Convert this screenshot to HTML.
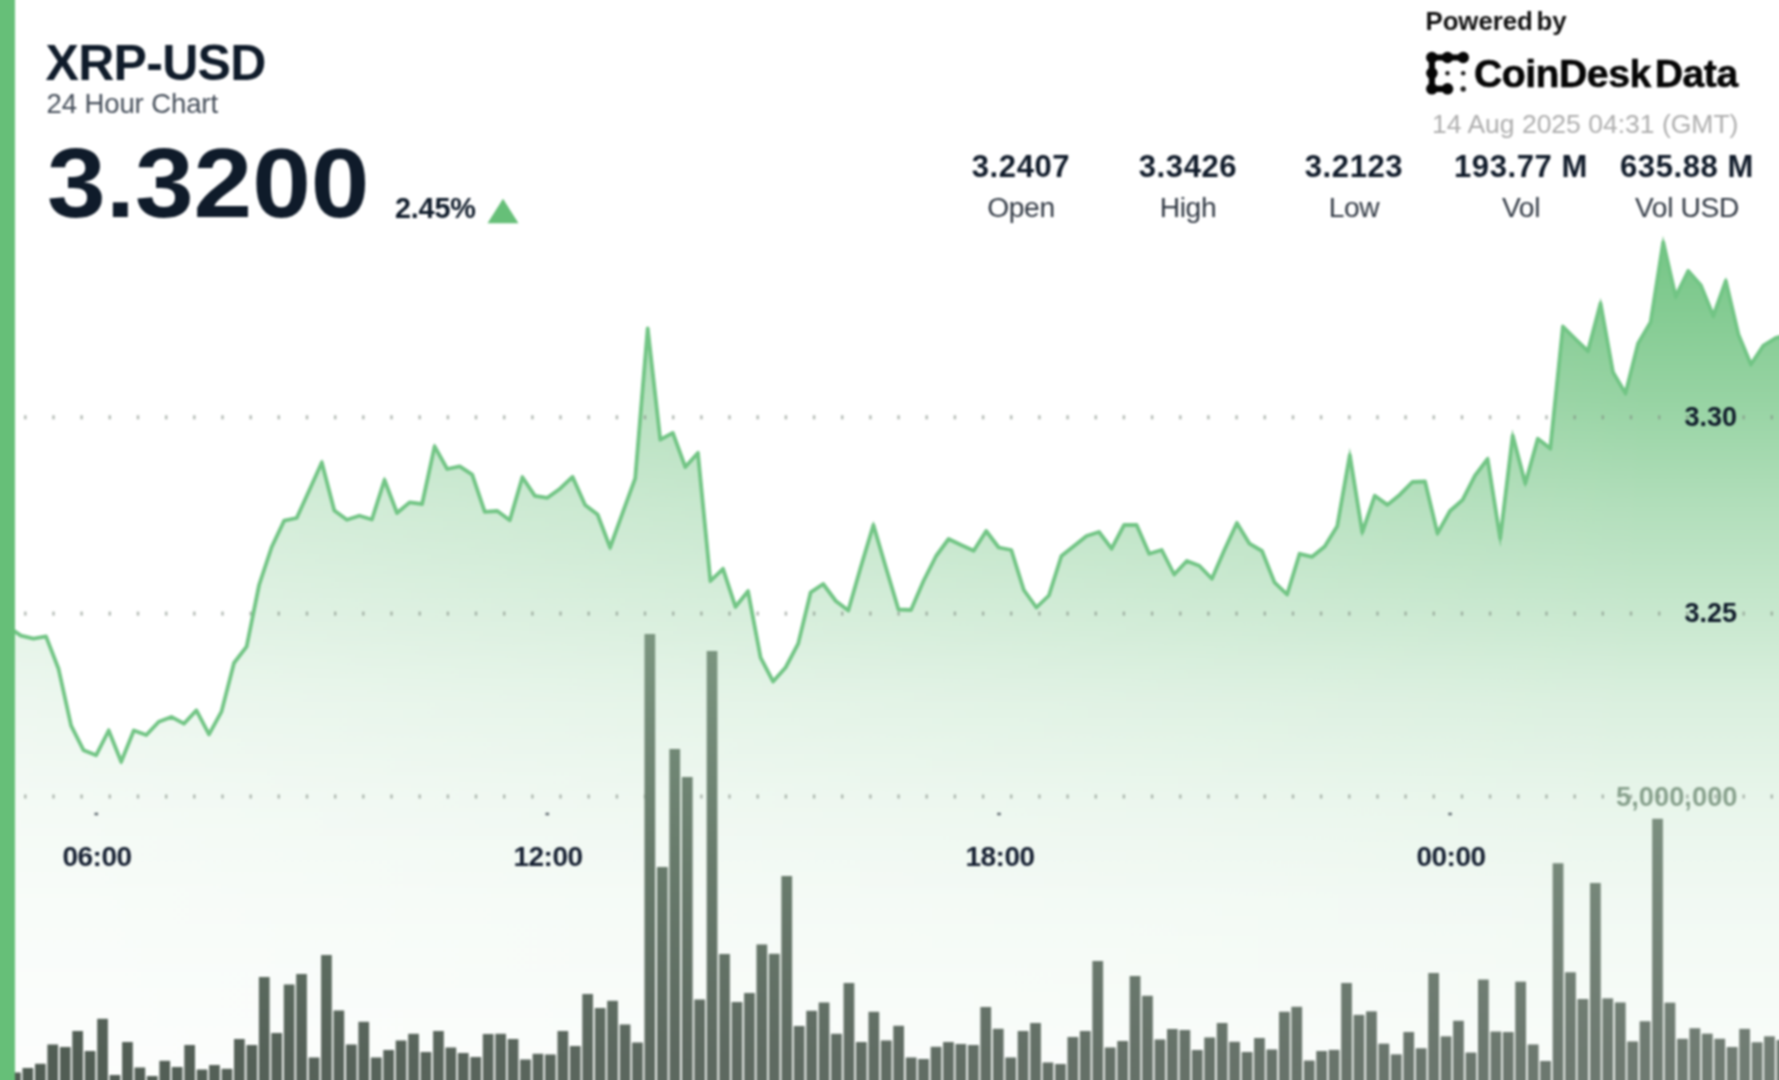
<!DOCTYPE html>
<html><head><meta charset="utf-8"><title>XRP-USD 24 Hour Chart</title>
<style>
html,body{margin:0;padding:0;background:#fff;}
body{width:1779px;height:1080px;overflow:hidden;position:relative;font-family:"Liberation Sans",sans-serif;color:#0f1b2a;}
#chart{position:absolute;left:0;top:0;width:1779px;height:1080px;}
.t{position:absolute;white-space:nowrap;line-height:1;}
.b{font-weight:bold;}
.stat{position:absolute;width:200px;text-align:center;white-space:nowrap;line-height:1;}
.sv{top:150.6px;font-size:31px;font-weight:bold;color:#101b2a;letter-spacing:0.6px;}
.sl{top:193px;font-size:28.2px;color:#2f3742;letter-spacing:-0.35px;}
.ax{font-size:27px;font-weight:bold;color:#0f1b2a;}
.tm{position:absolute;width:120px;text-align:center;top:842.8px;font-size:28px;font-weight:bold;color:#162032;line-height:1;letter-spacing:-0.5px;}
#w{position:absolute;left:-30px;top:-30px;width:1839px;height:1140px;filter:blur(0.9px);background:#fff;}
#in{position:absolute;left:30px;top:30px;width:1779px;height:1080px;}
#chart{overflow:visible;}
</style></head><body>
<div id="w"><div id="in">
<svg id="chart" width="1779" height="1080" viewBox="0 0 1779 1080">
<defs>
<linearGradient id="g" x1="0" y1="240" x2="0" y2="1080" gradientUnits="userSpaceOnUse"><stop offset="0.0000" stop-color="#66bf78" stop-opacity="0.9"/><stop offset="0.1905" stop-color="#66bf78" stop-opacity="0.68"/><stop offset="0.3214" stop-color="#66bf78" stop-opacity="0.5"/><stop offset="0.4452" stop-color="#66bf78" stop-opacity="0.36"/><stop offset="0.5476" stop-color="#66bf78" stop-opacity="0.24"/><stop offset="0.6667" stop-color="#66bf78" stop-opacity="0.15"/><stop offset="0.7857" stop-color="#66bf78" stop-opacity="0.09"/><stop offset="1.0000" stop-color="#66bf78" stop-opacity="0.03"/></linearGradient><linearGradient id="hg" x1="0" y1="0" x2="1779" y2="0" gradientUnits="userSpaceOnUse"><stop offset="0" stop-color="#fff" stop-opacity="0.52"/><stop offset="0.93" stop-color="#fff" stop-opacity="0.0"/><stop offset="1" stop-color="#fff" stop-opacity="0"/></linearGradient><linearGradient id="bg" x1="0" y1="630" x2="0" y2="1080" gradientUnits="userSpaceOnUse"><stop offset="0" stop-color="rgb(114,142,119)"/><stop offset="0.51" stop-color="rgb(92,112,96)"/><stop offset="0.95" stop-color="rgb(80,92,83)"/><stop offset="1" stop-color="rgb(80,92,83)"/></linearGradient><linearGradient id="bh" x1="0" y1="0" x2="1779" y2="0" gradientUnits="userSpaceOnUse"><stop offset="0" stop-color="#f4fff6" stop-opacity="0"/><stop offset="1" stop-color="#f4fff6" stop-opacity="0.2"/></linearGradient>
<filter id="bl" x="-2%" y="-2%" width="104%" height="104%"><feGaussianBlur stdDeviation="0.9"/></filter>
</defs>
<g>
<path d="M-3.5,624.0 L8.4,627.0 L20.9,635.6 L33.5,638.7 L46.0,636.4 L58.5,668.7 L71.1,725.6 L83.6,750.3 L96.2,755.2 L108.7,730.5 L121.2,761.7 L133.8,730.5 L146.3,735.0 L158.8,721.8 L171.4,716.9 L183.9,723.7 L196.4,710.4 L209.0,734.3 L221.5,711.6 L234.0,663.0 L246.6,646.6 L259.1,585.0 L271.7,547.0 L284.2,520.6 L296.7,518.0 L309.3,490.2 L321.8,462.5 L334.3,510.4 L346.9,519.8 L359.4,515.7 L371.9,519.5 L384.5,480.0 L397.0,513.0 L409.6,502.4 L422.1,504.0 L434.6,446.4 L447.2,469.0 L459.7,466.3 L472.2,474.6 L484.8,511.8 L497.3,511.0 L509.8,520.2 L522.4,477.3 L534.9,495.9 L547.4,497.8 L560.0,488.7 L572.5,476.9 L585.1,505.0 L597.6,514.5 L610.1,547.5 L622.7,512.6 L635.2,478.4 L647.7,328.5 L660.3,439.7 L672.8,432.9 L685.3,467.0 L697.9,453.0 L710.4,581.0 L723.0,568.8 L735.5,606.8 L748.0,591.2 L760.6,657.6 L773.1,681.5 L785.6,667.5 L798.2,643.6 L810.7,592.3 L823.2,584.0 L835.8,601.0 L848.3,610.5 L860.8,567.0 L873.4,525.0 L885.9,567.5 L898.5,609.5 L911.0,610.0 L923.5,581.0 L936.1,556.0 L948.6,539.0 L961.1,545.0 L973.7,550.7 L986.2,531.0 L998.7,547.5 L1011.3,550.0 L1023.8,590.0 L1036.4,607.5 L1048.9,595.5 L1061.4,556.0 L1074.0,546.0 L1086.5,536.0 L1099.0,532.0 L1111.6,548.7 L1124.1,525.0 L1136.6,525.0 L1149.2,553.7 L1161.7,550.0 L1174.2,574.5 L1186.8,561.0 L1199.3,565.7 L1211.9,578.7 L1224.4,550.0 L1236.9,523.0 L1249.5,543.7 L1262.0,551.0 L1274.5,582.4 L1287.1,594.5 L1299.6,553.8 L1312.1,556.8 L1324.7,546.6 L1337.2,526.3 L1349.8,455.0 L1362.3,532.4 L1374.8,495.7 L1387.4,504.9 L1399.9,494.7 L1412.4,482.0 L1425.0,481.5 L1437.5,533.4 L1450.0,511.0 L1462.6,499.8 L1475.1,475.4 L1487.6,459.0 L1500.2,538.5 L1512.7,435.6 L1525.3,483.5 L1537.8,438.8 L1550.3,448.5 L1562.9,326.7 L1575.4,339.0 L1587.9,351.2 L1600.5,303.4 L1613.0,372.3 L1625.5,393.4 L1638.1,343.4 L1650.6,322.3 L1663.2,242.2 L1675.7,296.7 L1688.2,271.0 L1700.8,285.3 L1713.3,316.0 L1725.8,281.0 L1738.4,334.5 L1750.9,364.5 L1763.4,345.6 L1776.0,337.8 L1788.5,335.0 L1801.0,334.0 L1801.0,1105 L-3.5,1105 Z" fill="url(#g)"/><path d="M-3.5,624.0 L8.4,627.0 L20.9,635.6 L33.5,638.7 L46.0,636.4 L58.5,668.7 L71.1,725.6 L83.6,750.3 L96.2,755.2 L108.7,730.5 L121.2,761.7 L133.8,730.5 L146.3,735.0 L158.8,721.8 L171.4,716.9 L183.9,723.7 L196.4,710.4 L209.0,734.3 L221.5,711.6 L234.0,663.0 L246.6,646.6 L259.1,585.0 L271.7,547.0 L284.2,520.6 L296.7,518.0 L309.3,490.2 L321.8,462.5 L334.3,510.4 L346.9,519.8 L359.4,515.7 L371.9,519.5 L384.5,480.0 L397.0,513.0 L409.6,502.4 L422.1,504.0 L434.6,446.4 L447.2,469.0 L459.7,466.3 L472.2,474.6 L484.8,511.8 L497.3,511.0 L509.8,520.2 L522.4,477.3 L534.9,495.9 L547.4,497.8 L560.0,488.7 L572.5,476.9 L585.1,505.0 L597.6,514.5 L610.1,547.5 L622.7,512.6 L635.2,478.4 L647.7,328.5 L660.3,439.7 L672.8,432.9 L685.3,467.0 L697.9,453.0 L710.4,581.0 L723.0,568.8 L735.5,606.8 L748.0,591.2 L760.6,657.6 L773.1,681.5 L785.6,667.5 L798.2,643.6 L810.7,592.3 L823.2,584.0 L835.8,601.0 L848.3,610.5 L860.8,567.0 L873.4,525.0 L885.9,567.5 L898.5,609.5 L911.0,610.0 L923.5,581.0 L936.1,556.0 L948.6,539.0 L961.1,545.0 L973.7,550.7 L986.2,531.0 L998.7,547.5 L1011.3,550.0 L1023.8,590.0 L1036.4,607.5 L1048.9,595.5 L1061.4,556.0 L1074.0,546.0 L1086.5,536.0 L1099.0,532.0 L1111.6,548.7 L1124.1,525.0 L1136.6,525.0 L1149.2,553.7 L1161.7,550.0 L1174.2,574.5 L1186.8,561.0 L1199.3,565.7 L1211.9,578.7 L1224.4,550.0 L1236.9,523.0 L1249.5,543.7 L1262.0,551.0 L1274.5,582.4 L1287.1,594.5 L1299.6,553.8 L1312.1,556.8 L1324.7,546.6 L1337.2,526.3 L1349.8,455.0 L1362.3,532.4 L1374.8,495.7 L1387.4,504.9 L1399.9,494.7 L1412.4,482.0 L1425.0,481.5 L1437.5,533.4 L1450.0,511.0 L1462.6,499.8 L1475.1,475.4 L1487.6,459.0 L1500.2,538.5 L1512.7,435.6 L1525.3,483.5 L1537.8,438.8 L1550.3,448.5 L1562.9,326.7 L1575.4,339.0 L1587.9,351.2 L1600.5,303.4 L1613.0,372.3 L1625.5,393.4 L1638.1,343.4 L1650.6,322.3 L1663.2,242.2 L1675.7,296.7 L1688.2,271.0 L1700.8,285.3 L1713.3,316.0 L1725.8,281.0 L1738.4,334.5 L1750.9,364.5 L1763.4,345.6 L1776.0,337.8 L1788.5,335.0 L1801.0,334.0 L1801.0,1105 L-3.5,1105 Z" fill="url(#hg)"/>
<text x="1737.5" y="806.3" text-anchor="end" font-family="Liberation Sans, sans-serif" font-weight="bold" font-size="27.3" fill="#7d9883" fill-opacity="0.9">5,000,000</text><g fill="#7f8a80" fill-opacity="0.6"><rect x="24.1" y="415.3" width="2.4" height="4"/><rect x="52.3" y="415.3" width="2.4" height="4"/><rect x="80.4" y="415.3" width="2.4" height="4"/><rect x="108.6" y="415.3" width="2.4" height="4"/><rect x="136.8" y="415.3" width="2.4" height="4"/><rect x="165.0" y="415.3" width="2.4" height="4"/><rect x="193.1" y="415.3" width="2.4" height="4"/><rect x="221.3" y="415.3" width="2.4" height="4"/><rect x="249.5" y="415.3" width="2.4" height="4"/><rect x="277.6" y="415.3" width="2.4" height="4"/><rect x="305.8" y="415.3" width="2.4" height="4"/><rect x="334.0" y="415.3" width="2.4" height="4"/><rect x="362.1" y="415.3" width="2.4" height="4"/><rect x="390.3" y="415.3" width="2.4" height="4"/><rect x="418.5" y="415.3" width="2.4" height="4"/><rect x="446.7" y="415.3" width="2.4" height="4"/><rect x="474.8" y="415.3" width="2.4" height="4"/><rect x="503.0" y="415.3" width="2.4" height="4"/><rect x="531.2" y="415.3" width="2.4" height="4"/><rect x="559.3" y="415.3" width="2.4" height="4"/><rect x="587.5" y="415.3" width="2.4" height="4"/><rect x="615.7" y="415.3" width="2.4" height="4"/><rect x="643.8" y="415.3" width="2.4" height="4"/><rect x="672.0" y="415.3" width="2.4" height="4"/><rect x="700.2" y="415.3" width="2.4" height="4"/><rect x="728.3" y="415.3" width="2.4" height="4"/><rect x="756.5" y="415.3" width="2.4" height="4"/><rect x="784.7" y="415.3" width="2.4" height="4"/><rect x="812.9" y="415.3" width="2.4" height="4"/><rect x="841.0" y="415.3" width="2.4" height="4"/><rect x="869.2" y="415.3" width="2.4" height="4"/><rect x="897.4" y="415.3" width="2.4" height="4"/><rect x="925.5" y="415.3" width="2.4" height="4"/><rect x="953.7" y="415.3" width="2.4" height="4"/><rect x="981.9" y="415.3" width="2.4" height="4"/><rect x="1010.0" y="415.3" width="2.4" height="4"/><rect x="1038.2" y="415.3" width="2.4" height="4"/><rect x="1066.4" y="415.3" width="2.4" height="4"/><rect x="1094.6" y="415.3" width="2.4" height="4"/><rect x="1122.7" y="415.3" width="2.4" height="4"/><rect x="1150.9" y="415.3" width="2.4" height="4"/><rect x="1179.1" y="415.3" width="2.4" height="4"/><rect x="1207.2" y="415.3" width="2.4" height="4"/><rect x="1235.4" y="415.3" width="2.4" height="4"/><rect x="1263.6" y="415.3" width="2.4" height="4"/><rect x="1291.8" y="415.3" width="2.4" height="4"/><rect x="1319.9" y="415.3" width="2.4" height="4"/><rect x="1348.1" y="415.3" width="2.4" height="4"/><rect x="1376.3" y="415.3" width="2.4" height="4"/><rect x="1404.4" y="415.3" width="2.4" height="4"/><rect x="1432.6" y="415.3" width="2.4" height="4"/><rect x="1460.8" y="415.3" width="2.4" height="4"/><rect x="1488.9" y="415.3" width="2.4" height="4"/><rect x="1517.1" y="415.3" width="2.4" height="4"/><rect x="1545.3" y="415.3" width="2.4" height="4"/><rect x="1573.5" y="415.3" width="2.4" height="4"/><rect x="1601.6" y="415.3" width="2.4" height="4"/><rect x="1629.8" y="415.3" width="2.4" height="4"/><rect x="1658.0" y="415.3" width="2.4" height="4"/><rect x="1686.1" y="415.3" width="2.4" height="4"/><rect x="1714.3" y="415.3" width="2.4" height="4"/><rect x="1742.5" y="415.3" width="2.4" height="4"/><rect x="1770.6" y="415.3" width="2.4" height="4"/><rect x="24.1" y="611.6" width="2.4" height="4"/><rect x="52.3" y="611.6" width="2.4" height="4"/><rect x="80.4" y="611.6" width="2.4" height="4"/><rect x="108.6" y="611.6" width="2.4" height="4"/><rect x="136.8" y="611.6" width="2.4" height="4"/><rect x="165.0" y="611.6" width="2.4" height="4"/><rect x="193.1" y="611.6" width="2.4" height="4"/><rect x="221.3" y="611.6" width="2.4" height="4"/><rect x="249.5" y="611.6" width="2.4" height="4"/><rect x="277.6" y="611.6" width="2.4" height="4"/><rect x="305.8" y="611.6" width="2.4" height="4"/><rect x="334.0" y="611.6" width="2.4" height="4"/><rect x="362.1" y="611.6" width="2.4" height="4"/><rect x="390.3" y="611.6" width="2.4" height="4"/><rect x="418.5" y="611.6" width="2.4" height="4"/><rect x="446.7" y="611.6" width="2.4" height="4"/><rect x="474.8" y="611.6" width="2.4" height="4"/><rect x="503.0" y="611.6" width="2.4" height="4"/><rect x="531.2" y="611.6" width="2.4" height="4"/><rect x="559.3" y="611.6" width="2.4" height="4"/><rect x="587.5" y="611.6" width="2.4" height="4"/><rect x="615.7" y="611.6" width="2.4" height="4"/><rect x="643.8" y="611.6" width="2.4" height="4"/><rect x="672.0" y="611.6" width="2.4" height="4"/><rect x="700.2" y="611.6" width="2.4" height="4"/><rect x="728.3" y="611.6" width="2.4" height="4"/><rect x="756.5" y="611.6" width="2.4" height="4"/><rect x="784.7" y="611.6" width="2.4" height="4"/><rect x="812.9" y="611.6" width="2.4" height="4"/><rect x="841.0" y="611.6" width="2.4" height="4"/><rect x="869.2" y="611.6" width="2.4" height="4"/><rect x="897.4" y="611.6" width="2.4" height="4"/><rect x="925.5" y="611.6" width="2.4" height="4"/><rect x="953.7" y="611.6" width="2.4" height="4"/><rect x="981.9" y="611.6" width="2.4" height="4"/><rect x="1010.0" y="611.6" width="2.4" height="4"/><rect x="1038.2" y="611.6" width="2.4" height="4"/><rect x="1066.4" y="611.6" width="2.4" height="4"/><rect x="1094.6" y="611.6" width="2.4" height="4"/><rect x="1122.7" y="611.6" width="2.4" height="4"/><rect x="1150.9" y="611.6" width="2.4" height="4"/><rect x="1179.1" y="611.6" width="2.4" height="4"/><rect x="1207.2" y="611.6" width="2.4" height="4"/><rect x="1235.4" y="611.6" width="2.4" height="4"/><rect x="1263.6" y="611.6" width="2.4" height="4"/><rect x="1291.8" y="611.6" width="2.4" height="4"/><rect x="1319.9" y="611.6" width="2.4" height="4"/><rect x="1348.1" y="611.6" width="2.4" height="4"/><rect x="1376.3" y="611.6" width="2.4" height="4"/><rect x="1404.4" y="611.6" width="2.4" height="4"/><rect x="1432.6" y="611.6" width="2.4" height="4"/><rect x="1460.8" y="611.6" width="2.4" height="4"/><rect x="1488.9" y="611.6" width="2.4" height="4"/><rect x="1517.1" y="611.6" width="2.4" height="4"/><rect x="1545.3" y="611.6" width="2.4" height="4"/><rect x="1573.5" y="611.6" width="2.4" height="4"/><rect x="1601.6" y="611.6" width="2.4" height="4"/><rect x="1629.8" y="611.6" width="2.4" height="4"/><rect x="1658.0" y="611.6" width="2.4" height="4"/><rect x="1686.1" y="611.6" width="2.4" height="4"/><rect x="1714.3" y="611.6" width="2.4" height="4"/><rect x="1742.5" y="611.6" width="2.4" height="4"/><rect x="1770.6" y="611.6" width="2.4" height="4"/><rect x="24.1" y="794.5" width="2.4" height="4"/><rect x="52.3" y="794.5" width="2.4" height="4"/><rect x="80.4" y="794.5" width="2.4" height="4"/><rect x="108.6" y="794.5" width="2.4" height="4"/><rect x="136.8" y="794.5" width="2.4" height="4"/><rect x="165.0" y="794.5" width="2.4" height="4"/><rect x="193.1" y="794.5" width="2.4" height="4"/><rect x="221.3" y="794.5" width="2.4" height="4"/><rect x="249.5" y="794.5" width="2.4" height="4"/><rect x="277.6" y="794.5" width="2.4" height="4"/><rect x="305.8" y="794.5" width="2.4" height="4"/><rect x="334.0" y="794.5" width="2.4" height="4"/><rect x="362.1" y="794.5" width="2.4" height="4"/><rect x="390.3" y="794.5" width="2.4" height="4"/><rect x="418.5" y="794.5" width="2.4" height="4"/><rect x="446.7" y="794.5" width="2.4" height="4"/><rect x="474.8" y="794.5" width="2.4" height="4"/><rect x="503.0" y="794.5" width="2.4" height="4"/><rect x="531.2" y="794.5" width="2.4" height="4"/><rect x="559.3" y="794.5" width="2.4" height="4"/><rect x="587.5" y="794.5" width="2.4" height="4"/><rect x="615.7" y="794.5" width="2.4" height="4"/><rect x="643.8" y="794.5" width="2.4" height="4"/><rect x="672.0" y="794.5" width="2.4" height="4"/><rect x="700.2" y="794.5" width="2.4" height="4"/><rect x="728.3" y="794.5" width="2.4" height="4"/><rect x="756.5" y="794.5" width="2.4" height="4"/><rect x="784.7" y="794.5" width="2.4" height="4"/><rect x="812.9" y="794.5" width="2.4" height="4"/><rect x="841.0" y="794.5" width="2.4" height="4"/><rect x="869.2" y="794.5" width="2.4" height="4"/><rect x="897.4" y="794.5" width="2.4" height="4"/><rect x="925.5" y="794.5" width="2.4" height="4"/><rect x="953.7" y="794.5" width="2.4" height="4"/><rect x="981.9" y="794.5" width="2.4" height="4"/><rect x="1010.0" y="794.5" width="2.4" height="4"/><rect x="1038.2" y="794.5" width="2.4" height="4"/><rect x="1066.4" y="794.5" width="2.4" height="4"/><rect x="1094.6" y="794.5" width="2.4" height="4"/><rect x="1122.7" y="794.5" width="2.4" height="4"/><rect x="1150.9" y="794.5" width="2.4" height="4"/><rect x="1179.1" y="794.5" width="2.4" height="4"/><rect x="1207.2" y="794.5" width="2.4" height="4"/><rect x="1235.4" y="794.5" width="2.4" height="4"/><rect x="1263.6" y="794.5" width="2.4" height="4"/><rect x="1291.8" y="794.5" width="2.4" height="4"/><rect x="1319.9" y="794.5" width="2.4" height="4"/><rect x="1348.1" y="794.5" width="2.4" height="4"/><rect x="1376.3" y="794.5" width="2.4" height="4"/><rect x="1404.4" y="794.5" width="2.4" height="4"/><rect x="1432.6" y="794.5" width="2.4" height="4"/><rect x="1460.8" y="794.5" width="2.4" height="4"/><rect x="1488.9" y="794.5" width="2.4" height="4"/><rect x="1517.1" y="794.5" width="2.4" height="4"/><rect x="1545.3" y="794.5" width="2.4" height="4"/><rect x="1573.5" y="794.5" width="2.4" height="4"/><rect x="1601.6" y="794.5" width="2.4" height="4"/><rect x="1629.8" y="794.5" width="2.4" height="4"/><rect x="1658.0" y="794.5" width="2.4" height="4"/><rect x="1686.1" y="794.5" width="2.4" height="4"/><rect x="1714.3" y="794.5" width="2.4" height="4"/><rect x="1742.5" y="794.5" width="2.4" height="4"/><rect x="1770.6" y="794.5" width="2.4" height="4"/><rect x="94.5" y="812.7" width="3.6" height="2.6" fill="#566068" fill-opacity="0.9"/><rect x="545.5" y="812.7" width="3.6" height="2.6" fill="#566068" fill-opacity="0.9"/><rect x="997.2" y="812.7" width="3.6" height="2.6" fill="#566068" fill-opacity="0.9"/><rect x="1448.3" y="812.7" width="3.6" height="2.6" fill="#566068" fill-opacity="0.9"/></g>
<g fill="url(#bg)"><rect x="10.1" y="1072.5" width="10.7" height="32.5"/><rect x="22.5" y="1068.0" width="10.7" height="37.0"/><rect x="35.0" y="1063.8" width="10.7" height="41.2"/><rect x="47.4" y="1044.5" width="10.7" height="60.5"/><rect x="59.9" y="1047.0" width="10.7" height="58.0"/><rect x="72.3" y="1031.0" width="10.7" height="74.0"/><rect x="84.7" y="1051.0" width="10.7" height="54.0"/><rect x="97.2" y="1018.8" width="10.7" height="86.2"/><rect x="109.6" y="1075.0" width="10.7" height="30.0"/><rect x="122.1" y="1042.0" width="10.7" height="63.0"/><rect x="134.5" y="1067.5" width="10.7" height="37.5"/><rect x="146.9" y="1076.0" width="10.7" height="29.0"/><rect x="159.4" y="1060.8" width="10.7" height="44.2"/><rect x="171.8" y="1067.0" width="10.7" height="38.0"/><rect x="184.3" y="1045.0" width="10.7" height="60.0"/><rect x="196.7" y="1069.5" width="10.7" height="35.5"/><rect x="209.1" y="1065.0" width="10.7" height="40.0"/><rect x="221.6" y="1068.8" width="10.7" height="36.2"/><rect x="234.0" y="1039.0" width="10.7" height="66.0"/><rect x="246.5" y="1045.0" width="10.7" height="60.0"/><rect x="258.9" y="977.0" width="10.7" height="128.0"/><rect x="271.3" y="1033.0" width="10.7" height="72.0"/><rect x="283.8" y="984.5" width="10.7" height="120.5"/><rect x="296.2" y="974.0" width="10.7" height="131.0"/><rect x="308.7" y="1057.5" width="10.7" height="47.5"/><rect x="321.1" y="955.0" width="10.7" height="150.0"/><rect x="333.5" y="1010.5" width="10.7" height="94.5"/><rect x="346.0" y="1044.5" width="10.7" height="60.5"/><rect x="358.4" y="1021.8" width="10.7" height="83.2"/><rect x="370.9" y="1057.5" width="10.7" height="47.5"/><rect x="383.3" y="1050.0" width="10.7" height="55.0"/><rect x="395.7" y="1040.5" width="10.7" height="64.5"/><rect x="408.2" y="1033.8" width="10.7" height="71.2"/><rect x="420.6" y="1052.0" width="10.7" height="53.0"/><rect x="433.1" y="1031.0" width="10.7" height="74.0"/><rect x="445.5" y="1047.5" width="10.7" height="57.5"/><rect x="457.9" y="1053.0" width="10.7" height="52.0"/><rect x="470.4" y="1057.0" width="10.7" height="48.0"/><rect x="482.8" y="1034.0" width="10.7" height="71.0"/><rect x="495.3" y="1033.8" width="10.7" height="71.2"/><rect x="507.7" y="1039.0" width="10.7" height="66.0"/><rect x="520.1" y="1059.5" width="10.7" height="45.5"/><rect x="532.6" y="1053.8" width="10.7" height="51.2"/><rect x="545.0" y="1054.5" width="10.7" height="50.5"/><rect x="557.5" y="1031.0" width="10.7" height="74.0"/><rect x="569.9" y="1046.0" width="10.7" height="59.0"/><rect x="582.3" y="994.0" width="10.7" height="111.0"/><rect x="594.8" y="1008.0" width="10.7" height="97.0"/><rect x="607.2" y="1000.8" width="10.7" height="104.2"/><rect x="619.7" y="1024.5" width="10.7" height="80.5"/><rect x="632.1" y="1042.5" width="10.7" height="62.5"/><rect x="644.5" y="634.0" width="10.7" height="471.0"/><rect x="657.0" y="867.0" width="10.7" height="238.0"/><rect x="669.4" y="749.0" width="10.7" height="356.0"/><rect x="681.9" y="777.0" width="10.7" height="328.0"/><rect x="694.3" y="999.5" width="10.7" height="105.5"/><rect x="706.7" y="651.0" width="10.7" height="454.0"/><rect x="719.2" y="954.0" width="10.7" height="151.0"/><rect x="731.6" y="1002.0" width="10.7" height="103.0"/><rect x="744.1" y="993.0" width="10.7" height="112.0"/><rect x="756.5" y="944.5" width="10.7" height="160.5"/><rect x="768.9" y="953.8" width="10.7" height="151.2"/><rect x="781.4" y="876.0" width="10.7" height="229.0"/><rect x="793.8" y="1026.0" width="10.7" height="79.0"/><rect x="806.3" y="1010.8" width="10.7" height="94.2"/><rect x="818.7" y="1002.5" width="10.7" height="102.5"/><rect x="831.1" y="1033.8" width="10.7" height="71.2"/><rect x="843.6" y="983.0" width="10.7" height="122.0"/><rect x="856.0" y="1042.0" width="10.7" height="63.0"/><rect x="868.5" y="1011.8" width="10.7" height="93.2"/><rect x="880.9" y="1040.5" width="10.7" height="64.5"/><rect x="893.3" y="1025.8" width="10.7" height="79.2"/><rect x="905.8" y="1057.5" width="10.7" height="47.5"/><rect x="918.2" y="1059.0" width="10.7" height="46.0"/><rect x="930.7" y="1046.8" width="10.7" height="58.2"/><rect x="943.1" y="1042.0" width="10.7" height="63.0"/><rect x="955.5" y="1044.0" width="10.7" height="61.0"/><rect x="968.0" y="1045.0" width="10.7" height="60.0"/><rect x="980.4" y="1007.0" width="10.7" height="98.0"/><rect x="992.9" y="1028.8" width="10.7" height="76.2"/><rect x="1005.3" y="1057.5" width="10.7" height="47.5"/><rect x="1017.7" y="1031.0" width="10.7" height="74.0"/><rect x="1030.2" y="1023.0" width="10.7" height="82.0"/><rect x="1042.6" y="1062.5" width="10.7" height="42.5"/><rect x="1055.1" y="1064.0" width="10.7" height="41.0"/><rect x="1067.5" y="1037.0" width="10.7" height="68.0"/><rect x="1079.9" y="1031.0" width="10.7" height="74.0"/><rect x="1092.4" y="961.0" width="10.7" height="144.0"/><rect x="1104.8" y="1047.5" width="10.7" height="57.5"/><rect x="1117.3" y="1041.0" width="10.7" height="64.0"/><rect x="1129.7" y="976.0" width="10.7" height="129.0"/><rect x="1142.1" y="995.8" width="10.7" height="109.2"/><rect x="1154.6" y="1039.5" width="10.7" height="65.5"/><rect x="1167.0" y="1029.0" width="10.7" height="76.0"/><rect x="1179.5" y="1030.0" width="10.7" height="75.0"/><rect x="1191.9" y="1050.0" width="10.7" height="55.0"/><rect x="1204.3" y="1037.5" width="10.7" height="67.5"/><rect x="1216.8" y="1023.0" width="10.7" height="82.0"/><rect x="1229.2" y="1041.8" width="10.7" height="63.2"/><rect x="1241.7" y="1052.0" width="10.7" height="53.0"/><rect x="1254.1" y="1038.0" width="10.7" height="67.0"/><rect x="1266.5" y="1049.5" width="10.7" height="55.5"/><rect x="1279.0" y="1011.8" width="10.7" height="93.2"/><rect x="1291.4" y="1006.8" width="10.7" height="98.2"/><rect x="1303.9" y="1060.6" width="10.7" height="44.4"/><rect x="1316.3" y="1051.0" width="10.7" height="54.0"/><rect x="1328.7" y="1049.9" width="10.7" height="55.1"/><rect x="1341.2" y="983.0" width="10.7" height="122.0"/><rect x="1353.6" y="1014.9" width="10.7" height="90.1"/><rect x="1366.1" y="1011.4" width="10.7" height="93.6"/><rect x="1378.5" y="1043.7" width="10.7" height="61.3"/><rect x="1390.9" y="1054.4" width="10.7" height="50.6"/><rect x="1403.4" y="1032.0" width="10.7" height="73.0"/><rect x="1415.8" y="1048.3" width="10.7" height="56.7"/><rect x="1428.3" y="973.0" width="10.7" height="132.0"/><rect x="1440.7" y="1036.4" width="10.7" height="68.6"/><rect x="1453.1" y="1020.8" width="10.7" height="84.2"/><rect x="1465.6" y="1052.6" width="10.7" height="52.4"/><rect x="1478.0" y="979.6" width="10.7" height="125.4"/><rect x="1490.5" y="1031.6" width="10.7" height="73.4"/><rect x="1502.9" y="1032.0" width="10.7" height="73.0"/><rect x="1515.3" y="981.7" width="10.7" height="123.3"/><rect x="1527.8" y="1044.5" width="10.7" height="60.5"/><rect x="1540.2" y="1061.0" width="10.7" height="44.0"/><rect x="1552.7" y="863.3" width="10.7" height="241.7"/><rect x="1565.1" y="972.3" width="10.7" height="132.7"/><rect x="1577.5" y="999.0" width="10.7" height="106.0"/><rect x="1590.0" y="883.0" width="10.7" height="222.0"/><rect x="1602.4" y="998.4" width="10.7" height="106.6"/><rect x="1614.9" y="1002.5" width="10.7" height="102.5"/><rect x="1627.3" y="1041.5" width="10.7" height="63.5"/><rect x="1639.7" y="1021.3" width="10.7" height="83.7"/><rect x="1652.2" y="818.8" width="10.7" height="286.2"/><rect x="1664.6" y="1002.7" width="10.7" height="102.3"/><rect x="1677.1" y="1038.8" width="10.7" height="66.2"/><rect x="1689.5" y="1028.3" width="10.7" height="76.7"/><rect x="1701.9" y="1033.7" width="10.7" height="71.3"/><rect x="1714.4" y="1038.8" width="10.7" height="66.2"/><rect x="1726.8" y="1047.0" width="10.7" height="58.0"/><rect x="1739.3" y="1028.9" width="10.7" height="76.1"/><rect x="1751.7" y="1042.3" width="10.7" height="62.7"/><rect x="1764.1" y="1036.4" width="10.7" height="68.6"/><rect x="1776.6" y="1040.0" width="10.7" height="65.0"/></g><g fill="url(#bh)"><rect x="10.1" y="1072.5" width="10.7" height="32.5"/><rect x="22.5" y="1068.0" width="10.7" height="37.0"/><rect x="35.0" y="1063.8" width="10.7" height="41.2"/><rect x="47.4" y="1044.5" width="10.7" height="60.5"/><rect x="59.9" y="1047.0" width="10.7" height="58.0"/><rect x="72.3" y="1031.0" width="10.7" height="74.0"/><rect x="84.7" y="1051.0" width="10.7" height="54.0"/><rect x="97.2" y="1018.8" width="10.7" height="86.2"/><rect x="109.6" y="1075.0" width="10.7" height="30.0"/><rect x="122.1" y="1042.0" width="10.7" height="63.0"/><rect x="134.5" y="1067.5" width="10.7" height="37.5"/><rect x="146.9" y="1076.0" width="10.7" height="29.0"/><rect x="159.4" y="1060.8" width="10.7" height="44.2"/><rect x="171.8" y="1067.0" width="10.7" height="38.0"/><rect x="184.3" y="1045.0" width="10.7" height="60.0"/><rect x="196.7" y="1069.5" width="10.7" height="35.5"/><rect x="209.1" y="1065.0" width="10.7" height="40.0"/><rect x="221.6" y="1068.8" width="10.7" height="36.2"/><rect x="234.0" y="1039.0" width="10.7" height="66.0"/><rect x="246.5" y="1045.0" width="10.7" height="60.0"/><rect x="258.9" y="977.0" width="10.7" height="128.0"/><rect x="271.3" y="1033.0" width="10.7" height="72.0"/><rect x="283.8" y="984.5" width="10.7" height="120.5"/><rect x="296.2" y="974.0" width="10.7" height="131.0"/><rect x="308.7" y="1057.5" width="10.7" height="47.5"/><rect x="321.1" y="955.0" width="10.7" height="150.0"/><rect x="333.5" y="1010.5" width="10.7" height="94.5"/><rect x="346.0" y="1044.5" width="10.7" height="60.5"/><rect x="358.4" y="1021.8" width="10.7" height="83.2"/><rect x="370.9" y="1057.5" width="10.7" height="47.5"/><rect x="383.3" y="1050.0" width="10.7" height="55.0"/><rect x="395.7" y="1040.5" width="10.7" height="64.5"/><rect x="408.2" y="1033.8" width="10.7" height="71.2"/><rect x="420.6" y="1052.0" width="10.7" height="53.0"/><rect x="433.1" y="1031.0" width="10.7" height="74.0"/><rect x="445.5" y="1047.5" width="10.7" height="57.5"/><rect x="457.9" y="1053.0" width="10.7" height="52.0"/><rect x="470.4" y="1057.0" width="10.7" height="48.0"/><rect x="482.8" y="1034.0" width="10.7" height="71.0"/><rect x="495.3" y="1033.8" width="10.7" height="71.2"/><rect x="507.7" y="1039.0" width="10.7" height="66.0"/><rect x="520.1" y="1059.5" width="10.7" height="45.5"/><rect x="532.6" y="1053.8" width="10.7" height="51.2"/><rect x="545.0" y="1054.5" width="10.7" height="50.5"/><rect x="557.5" y="1031.0" width="10.7" height="74.0"/><rect x="569.9" y="1046.0" width="10.7" height="59.0"/><rect x="582.3" y="994.0" width="10.7" height="111.0"/><rect x="594.8" y="1008.0" width="10.7" height="97.0"/><rect x="607.2" y="1000.8" width="10.7" height="104.2"/><rect x="619.7" y="1024.5" width="10.7" height="80.5"/><rect x="632.1" y="1042.5" width="10.7" height="62.5"/><rect x="644.5" y="634.0" width="10.7" height="471.0"/><rect x="657.0" y="867.0" width="10.7" height="238.0"/><rect x="669.4" y="749.0" width="10.7" height="356.0"/><rect x="681.9" y="777.0" width="10.7" height="328.0"/><rect x="694.3" y="999.5" width="10.7" height="105.5"/><rect x="706.7" y="651.0" width="10.7" height="454.0"/><rect x="719.2" y="954.0" width="10.7" height="151.0"/><rect x="731.6" y="1002.0" width="10.7" height="103.0"/><rect x="744.1" y="993.0" width="10.7" height="112.0"/><rect x="756.5" y="944.5" width="10.7" height="160.5"/><rect x="768.9" y="953.8" width="10.7" height="151.2"/><rect x="781.4" y="876.0" width="10.7" height="229.0"/><rect x="793.8" y="1026.0" width="10.7" height="79.0"/><rect x="806.3" y="1010.8" width="10.7" height="94.2"/><rect x="818.7" y="1002.5" width="10.7" height="102.5"/><rect x="831.1" y="1033.8" width="10.7" height="71.2"/><rect x="843.6" y="983.0" width="10.7" height="122.0"/><rect x="856.0" y="1042.0" width="10.7" height="63.0"/><rect x="868.5" y="1011.8" width="10.7" height="93.2"/><rect x="880.9" y="1040.5" width="10.7" height="64.5"/><rect x="893.3" y="1025.8" width="10.7" height="79.2"/><rect x="905.8" y="1057.5" width="10.7" height="47.5"/><rect x="918.2" y="1059.0" width="10.7" height="46.0"/><rect x="930.7" y="1046.8" width="10.7" height="58.2"/><rect x="943.1" y="1042.0" width="10.7" height="63.0"/><rect x="955.5" y="1044.0" width="10.7" height="61.0"/><rect x="968.0" y="1045.0" width="10.7" height="60.0"/><rect x="980.4" y="1007.0" width="10.7" height="98.0"/><rect x="992.9" y="1028.8" width="10.7" height="76.2"/><rect x="1005.3" y="1057.5" width="10.7" height="47.5"/><rect x="1017.7" y="1031.0" width="10.7" height="74.0"/><rect x="1030.2" y="1023.0" width="10.7" height="82.0"/><rect x="1042.6" y="1062.5" width="10.7" height="42.5"/><rect x="1055.1" y="1064.0" width="10.7" height="41.0"/><rect x="1067.5" y="1037.0" width="10.7" height="68.0"/><rect x="1079.9" y="1031.0" width="10.7" height="74.0"/><rect x="1092.4" y="961.0" width="10.7" height="144.0"/><rect x="1104.8" y="1047.5" width="10.7" height="57.5"/><rect x="1117.3" y="1041.0" width="10.7" height="64.0"/><rect x="1129.7" y="976.0" width="10.7" height="129.0"/><rect x="1142.1" y="995.8" width="10.7" height="109.2"/><rect x="1154.6" y="1039.5" width="10.7" height="65.5"/><rect x="1167.0" y="1029.0" width="10.7" height="76.0"/><rect x="1179.5" y="1030.0" width="10.7" height="75.0"/><rect x="1191.9" y="1050.0" width="10.7" height="55.0"/><rect x="1204.3" y="1037.5" width="10.7" height="67.5"/><rect x="1216.8" y="1023.0" width="10.7" height="82.0"/><rect x="1229.2" y="1041.8" width="10.7" height="63.2"/><rect x="1241.7" y="1052.0" width="10.7" height="53.0"/><rect x="1254.1" y="1038.0" width="10.7" height="67.0"/><rect x="1266.5" y="1049.5" width="10.7" height="55.5"/><rect x="1279.0" y="1011.8" width="10.7" height="93.2"/><rect x="1291.4" y="1006.8" width="10.7" height="98.2"/><rect x="1303.9" y="1060.6" width="10.7" height="44.4"/><rect x="1316.3" y="1051.0" width="10.7" height="54.0"/><rect x="1328.7" y="1049.9" width="10.7" height="55.1"/><rect x="1341.2" y="983.0" width="10.7" height="122.0"/><rect x="1353.6" y="1014.9" width="10.7" height="90.1"/><rect x="1366.1" y="1011.4" width="10.7" height="93.6"/><rect x="1378.5" y="1043.7" width="10.7" height="61.3"/><rect x="1390.9" y="1054.4" width="10.7" height="50.6"/><rect x="1403.4" y="1032.0" width="10.7" height="73.0"/><rect x="1415.8" y="1048.3" width="10.7" height="56.7"/><rect x="1428.3" y="973.0" width="10.7" height="132.0"/><rect x="1440.7" y="1036.4" width="10.7" height="68.6"/><rect x="1453.1" y="1020.8" width="10.7" height="84.2"/><rect x="1465.6" y="1052.6" width="10.7" height="52.4"/><rect x="1478.0" y="979.6" width="10.7" height="125.4"/><rect x="1490.5" y="1031.6" width="10.7" height="73.4"/><rect x="1502.9" y="1032.0" width="10.7" height="73.0"/><rect x="1515.3" y="981.7" width="10.7" height="123.3"/><rect x="1527.8" y="1044.5" width="10.7" height="60.5"/><rect x="1540.2" y="1061.0" width="10.7" height="44.0"/><rect x="1552.7" y="863.3" width="10.7" height="241.7"/><rect x="1565.1" y="972.3" width="10.7" height="132.7"/><rect x="1577.5" y="999.0" width="10.7" height="106.0"/><rect x="1590.0" y="883.0" width="10.7" height="222.0"/><rect x="1602.4" y="998.4" width="10.7" height="106.6"/><rect x="1614.9" y="1002.5" width="10.7" height="102.5"/><rect x="1627.3" y="1041.5" width="10.7" height="63.5"/><rect x="1639.7" y="1021.3" width="10.7" height="83.7"/><rect x="1652.2" y="818.8" width="10.7" height="286.2"/><rect x="1664.6" y="1002.7" width="10.7" height="102.3"/><rect x="1677.1" y="1038.8" width="10.7" height="66.2"/><rect x="1689.5" y="1028.3" width="10.7" height="76.7"/><rect x="1701.9" y="1033.7" width="10.7" height="71.3"/><rect x="1714.4" y="1038.8" width="10.7" height="66.2"/><rect x="1726.8" y="1047.0" width="10.7" height="58.0"/><rect x="1739.3" y="1028.9" width="10.7" height="76.1"/><rect x="1751.7" y="1042.3" width="10.7" height="62.7"/><rect x="1764.1" y="1036.4" width="10.7" height="68.6"/><rect x="1776.6" y="1040.0" width="10.7" height="65.0"/></g>
<path d="M-3.5,624.0 L8.4,627.0 L20.9,635.6 L33.5,638.7 L46.0,636.4 L58.5,668.7 L71.1,725.6 L83.6,750.3 L96.2,755.2 L108.7,730.5 L121.2,761.7 L133.8,730.5 L146.3,735.0 L158.8,721.8 L171.4,716.9 L183.9,723.7 L196.4,710.4 L209.0,734.3 L221.5,711.6 L234.0,663.0 L246.6,646.6 L259.1,585.0 L271.7,547.0 L284.2,520.6 L296.7,518.0 L309.3,490.2 L321.8,462.5 L334.3,510.4 L346.9,519.8 L359.4,515.7 L371.9,519.5 L384.5,480.0 L397.0,513.0 L409.6,502.4 L422.1,504.0 L434.6,446.4 L447.2,469.0 L459.7,466.3 L472.2,474.6 L484.8,511.8 L497.3,511.0 L509.8,520.2 L522.4,477.3 L534.9,495.9 L547.4,497.8 L560.0,488.7 L572.5,476.9 L585.1,505.0 L597.6,514.5 L610.1,547.5 L622.7,512.6 L635.2,478.4 L647.7,328.5 L660.3,439.7 L672.8,432.9 L685.3,467.0 L697.9,453.0 L710.4,581.0 L723.0,568.8 L735.5,606.8 L748.0,591.2 L760.6,657.6 L773.1,681.5 L785.6,667.5 L798.2,643.6 L810.7,592.3 L823.2,584.0 L835.8,601.0 L848.3,610.5 L860.8,567.0 L873.4,525.0 L885.9,567.5 L898.5,609.5 L911.0,610.0 L923.5,581.0 L936.1,556.0 L948.6,539.0 L961.1,545.0 L973.7,550.7 L986.2,531.0 L998.7,547.5 L1011.3,550.0 L1023.8,590.0 L1036.4,607.5 L1048.9,595.5 L1061.4,556.0 L1074.0,546.0 L1086.5,536.0 L1099.0,532.0 L1111.6,548.7 L1124.1,525.0 L1136.6,525.0 L1149.2,553.7 L1161.7,550.0 L1174.2,574.5 L1186.8,561.0 L1199.3,565.7 L1211.9,578.7 L1224.4,550.0 L1236.9,523.0 L1249.5,543.7 L1262.0,551.0 L1274.5,582.4 L1287.1,594.5 L1299.6,553.8 L1312.1,556.8 L1324.7,546.6 L1337.2,526.3 L1349.8,455.0 L1362.3,532.4 L1374.8,495.7 L1387.4,504.9 L1399.9,494.7 L1412.4,482.0 L1425.0,481.5 L1437.5,533.4 L1450.0,511.0 L1462.6,499.8 L1475.1,475.4 L1487.6,459.0 L1500.2,538.5 L1512.7,435.6 L1525.3,483.5 L1537.8,438.8 L1550.3,448.5 L1562.9,326.7 L1575.4,339.0 L1587.9,351.2 L1600.5,303.4 L1613.0,372.3 L1625.5,393.4 L1638.1,343.4 L1650.6,322.3 L1663.2,242.2 L1675.7,296.7 L1688.2,271.0 L1700.8,285.3 L1713.3,316.0 L1725.8,281.0 L1738.4,334.5 L1750.9,364.5 L1763.4,345.6 L1776.0,337.8 L1788.5,335.0 L1801.0,334.0" fill="none" stroke="#72c585" stroke-width="3.8" stroke-linejoin="round"/><path d="M-3.5,624.0 L8.4,627.0 L20.9,635.6 L33.5,638.7 L46.0,636.4 L58.5,668.7 L71.1,725.6 L83.6,750.3 L96.2,755.2 L108.7,730.5 L121.2,761.7 L133.8,730.5 L146.3,735.0 L158.8,721.8 L171.4,716.9 L183.9,723.7 L196.4,710.4 L209.0,734.3 L221.5,711.6 L234.0,663.0 L246.6,646.6 L259.1,585.0 L271.7,547.0 L284.2,520.6 L296.7,518.0 L309.3,490.2 L321.8,462.5 L334.3,510.4 L346.9,519.8 L359.4,515.7 L371.9,519.5 L384.5,480.0 L397.0,513.0 L409.6,502.4 L422.1,504.0 L434.6,446.4 L447.2,469.0 L459.7,466.3 L472.2,474.6 L484.8,511.8 L497.3,511.0 L509.8,520.2 L522.4,477.3 L534.9,495.9 L547.4,497.8 L560.0,488.7 L572.5,476.9 L585.1,505.0 L597.6,514.5 L610.1,547.5 L622.7,512.6 L635.2,478.4 L647.7,328.5 L660.3,439.7 L672.8,432.9 L685.3,467.0 L697.9,453.0 L710.4,581.0 L723.0,568.8 L735.5,606.8 L748.0,591.2 L760.6,657.6 L773.1,681.5 L785.6,667.5 L798.2,643.6 L810.7,592.3 L823.2,584.0 L835.8,601.0 L848.3,610.5 L860.8,567.0 L873.4,525.0 L885.9,567.5 L898.5,609.5 L911.0,610.0 L923.5,581.0 L936.1,556.0 L948.6,539.0 L961.1,545.0 L973.7,550.7 L986.2,531.0 L998.7,547.5 L1011.3,550.0 L1023.8,590.0 L1036.4,607.5 L1048.9,595.5 L1061.4,556.0 L1074.0,546.0 L1086.5,536.0 L1099.0,532.0 L1111.6,548.7 L1124.1,525.0 L1136.6,525.0 L1149.2,553.7 L1161.7,550.0 L1174.2,574.5 L1186.8,561.0 L1199.3,565.7 L1211.9,578.7 L1224.4,550.0 L1236.9,523.0 L1249.5,543.7 L1262.0,551.0 L1274.5,582.4 L1287.1,594.5 L1299.6,553.8 L1312.1,556.8 L1324.7,546.6 L1337.2,526.3 L1349.8,455.0 L1362.3,532.4 L1374.8,495.7 L1387.4,504.9 L1399.9,494.7 L1412.4,482.0 L1425.0,481.5 L1437.5,533.4 L1450.0,511.0 L1462.6,499.8 L1475.1,475.4 L1487.6,459.0 L1500.2,538.5 L1512.7,435.6 L1525.3,483.5 L1537.8,438.8 L1550.3,448.5 L1562.9,326.7 L1575.4,339.0 L1587.9,351.2 L1600.5,303.4 L1613.0,372.3 L1625.5,393.4 L1638.1,343.4 L1650.6,322.3 L1663.2,242.2 L1675.7,296.7 L1688.2,271.0 L1700.8,285.3 L1713.3,316.0 L1725.8,281.0 L1738.4,334.5 L1750.9,364.5 L1763.4,345.6 L1776.0,337.8 L1788.5,335.0 L1801.0,334.0" fill="none" stroke="#72c585" stroke-width="2.4" stroke-linejoin="miter" stroke-miterlimit="10"/>
<rect x="-25" y="-25" width="40" height="1130" fill="#66bf78"/>
</g>
</svg>
<div class="t b" id="title" style="left:45.5px;top:37.7px;font-size:50px;letter-spacing:-0.7px;">XRP-USD</div>
<div class="t" id="sub" style="left:46.5px;top:90px;font-size:27.5px;color:#444d59;letter-spacing:-0.1px;">24 Hour Chart</div>
<div class="t b" id="price" style="left:47px;top:133px;font-size:99px;transform-origin:0 0;transform:scaleX(1.065);">3.3200</div>
<div class="t b" id="pct" style="left:395px;top:194.3px;font-size:28.8px;letter-spacing:-0.2px;">2.45%</div>
<svg class="t" id="tri" style="left:486px;top:197px;" width="34" height="30" viewBox="0 0 34 30"><path d="M17,1.8 L32.5,26.3 L1.5,26.3 Z" fill="#66bf78"/></svg>

<div class="stat sv" style="left:921px;">3.2407</div><div class="stat sl" style="left:921px;">Open</div>
<div class="stat sv" style="left:1088px;">3.3426</div><div class="stat sl" style="left:1088px;">High</div>
<div class="stat sv" style="left:1254px;">3.2123</div><div class="stat sl" style="left:1254px;">Low</div>
<div class="stat sv" style="left:1421px;">193.77 M</div><div class="stat sl" style="left:1421px;">Vol</div>
<div class="stat sv" style="left:1587px;">635.88 M</div><div class="stat sl" style="left:1587px;">Vol USD</div>

<div class="t b" id="pow" style="left:1425.5px;top:9.4px;font-size:25.8px;color:#111;letter-spacing:-0.05px;word-spacing:-3.2px;">Powered by</div>
<svg class="t" id="logo" style="left:1422px;top:48px;" width="50" height="50" viewBox="0 0 50 50">
<g stroke="#050505" stroke-width="6.2" stroke-linecap="round" fill="none">
<path d="M9.9,9.5 L41.2,9.5 M9.9,9.5 L9.9,40.8 M9.9,40.8 L25.5,40.8"/>
</g>
<g fill="#050505"><circle cx="9.9" cy="9.5" r="5.8"/><circle cx="25.5" cy="9.5" r="5.8"/><circle cx="41.2" cy="9.5" r="5.8"/><circle cx="9.9" cy="25.1" r="5.8"/><circle cx="9.9" cy="40.8" r="5.8"/><circle cx="25.5" cy="40.8" r="5.8"/>
<circle cx="25.5" cy="25.3" r="2.3" fill="#222"/><circle cx="41.2" cy="25.3" r="2.3" fill="#222"/><circle cx="41.2" cy="41" r="2.7" fill="#222"/></g>
</svg>
<div class="t b" id="cd" style="left:1474px;top:54.2px;font-size:39.2px;color:#050505;letter-spacing:-0.5px;-webkit-text-stroke:0.5px #050505;">CoinDesk<span style="margin-left:4px">Data</span></div>
<div class="t" id="date" style="left:1432px;top:111.2px;font-size:26.5px;color:#adadad;">14 Aug 2025 04:31 (GMT)</div>

<div class="t ax" id="a330" style="right:42px;top:404px;">3.30</div>
<div class="t ax" id="a325" style="right:42px;top:600px;">3.25</div>
<div class="tm" style="left:37px;">06:00</div>
<div class="tm" style="left:488px;">12:00</div>
<div class="tm" style="left:940px;">18:00</div>
<div class="tm" style="left:1391px;">00:00</div>
</div></div>
</body></html>
